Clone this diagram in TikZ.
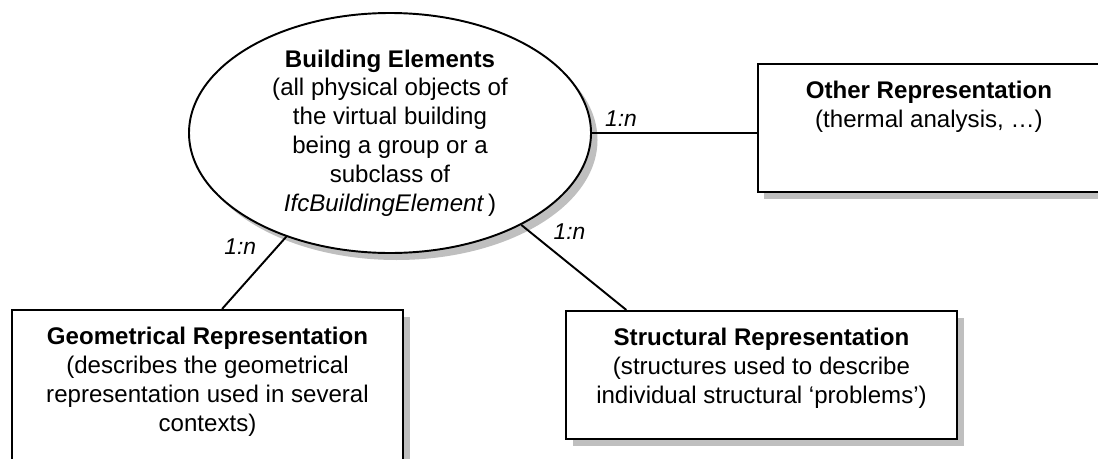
\documentclass[tikz,border=0pt]{standalone}
\usepackage{fontspec}
\setmainfont{Liberation Sans}
\usetikzlibrary{positioning, shapes.geometric, shadows, calc}

\tikzset{
  boxshadow/.style={drop shadow={shadow xshift=0.13cm, shadow yshift=-0.14cm, fill=black!25, opacity=1}},
  repbox/.style={draw, fill=white, boxshadow, inner xsep=0pt, inner ysep=0.34cm, align=center,
    font=\fontsize{13.7}{16.6}\selectfont},
  card/.style={font=\fontsize{13}{15}\itshape, inner sep=3pt}
}

\begin{document}
\begin{tikzpicture}[line width=1.1pt, font=\fontsize{13.7}{16.4}\selectfont]
  \useasboundingbox (0,0) rectangle (21.96,-9.18);
  \clip (0,0) rectangle (21.96,-9.18);
  \node[draw, ellipse, fill=white, boxshadow, inner sep=0pt, minimum width=8.04cm, minimum height=4.8cm, align=center] (elem) at (7.8,-2.66) {\textbf{Building Elements}\\(all physical objects of\\the virtual building\\being a group or a\\subclass of\\\textit{IfcBuildingElement}\,)};
  % text height = first line + (lines-1) x baselineskip
  \node[repbox, minimum width=6.84cm, text height=0.926cm, text depth=0.954cm, right=3.3cm of elem, yshift=0.1cm] (other) {\textbf{Other Representation}\\(thermal analysis, …)};
  \node[repbox, minimum width=7.82cm, text height=2.097cm, text depth=0.823cm, below=1.1cm of elem, xshift=-3.65cm] (geo) {\textbf{Geometrical Representation}\\(describes the geometrical\\representation used in several\\contexts)};
  \node[repbox, minimum width=7.82cm, text height=1.511cm, text depth=0.369cm, below=1.12cm of elem, xshift=7.43cm] (struct) {\textbf{Structural Representation}\\(structures used to describe\\individual structural ‘problems’)};

  \draw (elem.east) -- node[card, pos=0.176, above] (cother) {1:n} (elem.east -| other.west);
  \draw (elem.225) -- node[card, pos=0.137, left=0.3cm] (cgeo) {1:n} ($(geo.north west)!0.537!(geo.north east)$);
  \draw (elem.325) -- node[card, pos=0.082, right=0.35cm] (cstruct) {1:n} ($(struct.north west)!0.156!(struct.north east)$);
\end{tikzpicture}
\end{document}
